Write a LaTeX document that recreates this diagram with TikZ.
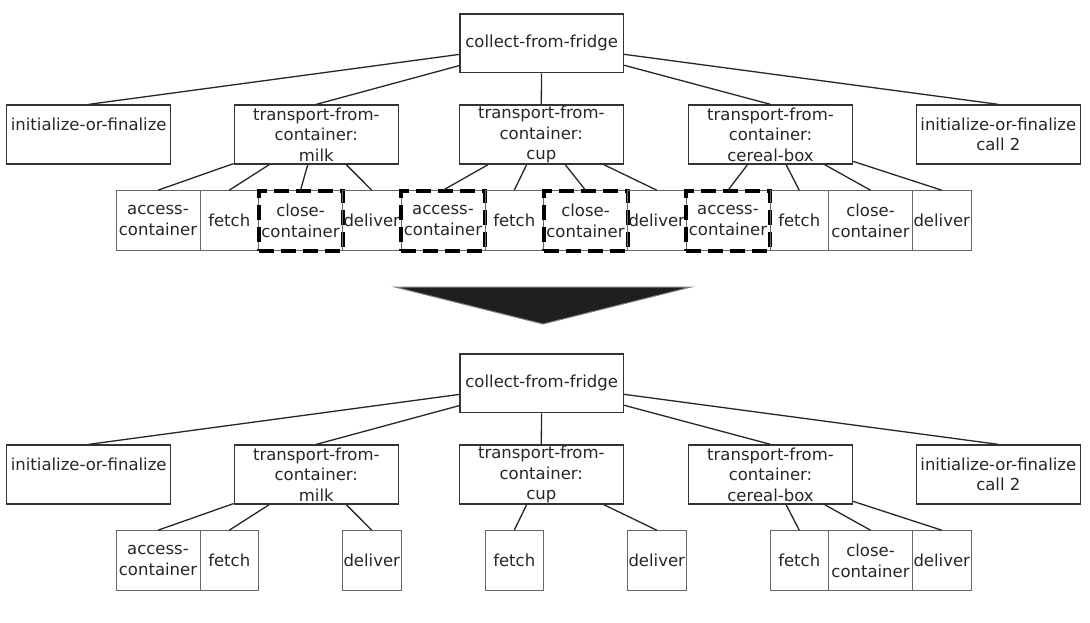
\documentclass[tikz,border=0pt]{standalone}
\usepackage{fontspec}
\setmainfont{DejaVu Sans}
\begin{document}
\begin{tikzpicture}[x=0.5pt,y=-0.5pt,
  box/.style={draw=black!80, line width=0.65pt, inner sep=0pt, align=center, text=black!85, font=\fontsize{8.25}{10.3}\selectfont},
  topbox/.style={box, minimum width=81.65pt, minimum height=29.35pt},
  midbox/.style={box, minimum width=82pt, minimum height=29.5pt},
  wideleaf/.style={box, draw=black!60, line width=0.5pt, minimum width=42pt, minimum height=30pt},
  narrowleaf/.style={box, draw=black!60, line width=0.5pt, minimum width=29.25pt, minimum height=30pt},
  dropped/.style={postaction={draw=black, line width=2pt, dash pattern=on 7.5pt off 3.5pt}},
  link/.style={draw=black!85, line width=0.65pt}]
\useasboundingbox (0,0) rectangle (1090,622);
\node[topbox] (t0) at (541.7,43.3){collect-from-fridge};
\node[midbox] (t1) at (88.7,134.5){initialize-or-finalize\\~};
\node[midbox] (t2) at (316.3,134.5){transport-from-\\container:\\milk};
\node[midbox] (t3) at (541.3,134.5){transport-from-\\container:\\cup};
\node[midbox] (t4) at (770.5,134.5){transport-from-\\container:\\cereal-box};
\node[midbox] (t5) at (998.3,134.5){initialize-or-finalize\\call 2};
\draw[link](t0) -- (t1.north);
\draw[link](t0) -- (t2.north);
\draw[link](t0) -- (t3.north);
\draw[link](t0) -- (t4.north);
\draw[link](t0) -- (t5.north);
\node[wideleaf] (t6) at (158,220.7){access-\\container};
\node[narrowleaf] (t7) at (229.25,220.7){fetch};
\node[wideleaf, dropped] (t8) at (300.5,220.7){close-\\container};
\node[narrowleaf] (t9) at (371.75,220.7){deliver};
\draw[link](t2) -- (t6.north);
\draw[link](t2) -- (t7.north);
\draw[link](t2) -- (t8.north);
\draw[link](t2) -- (t9.north);
\node[wideleaf, dropped] (t10) at (443,220.7){access-\\container};
\node[narrowleaf] (t11) at (514.25,220.7){fetch};
\node[wideleaf, dropped] (t12) at (585.5,220.7){close-\\container};
\node[narrowleaf] (t13) at (656.75,220.7){deliver};
\draw[link](t3) -- (t10.north);
\draw[link](t3) -- (t11.north);
\draw[link](t3) -- (t12.north);
\draw[link](t3) -- (t13.north);
\node[wideleaf, dropped] (t14) at (728,220.7){access-\\container};
\node[narrowleaf] (t15) at (799.25,220.7){fetch};
\node[wideleaf] (t16) at (870.5,220.7){close-\\container};
\node[narrowleaf] (t17) at (941.75,220.7){deliver};
\draw[link](t4) -- (t14.north);
\draw[link](t4) -- (t15.north);
\draw[link](t4) -- (t16.north);
\draw[link](t4) -- (t17.north);
\filldraw[fill=black!88, draw=black!50, line width=0.5pt] (395,287) -- (691,287) -- (543,324) -- cycle;
\node[topbox] (b0) at (541.7,383.3){collect-from-fridge};
\node[midbox] (b1) at (88.7,474.5){initialize-or-finalize\\~};
\node[midbox] (b2) at (316.3,474.5){transport-from-\\container:\\milk};
\node[midbox] (b3) at (541.3,474.5){transport-from-\\container:\\cup};
\node[midbox] (b4) at (770.5,474.5){transport-from-\\container:\\cereal-box};
\node[midbox] (b5) at (998.3,474.5){initialize-or-finalize\\call 2};
\draw[link](b0) -- (b1.north);
\draw[link](b0) -- (b2.north);
\draw[link](b0) -- (b3.north);
\draw[link](b0) -- (b4.north);
\draw[link](b0) -- (b5.north);
\node[wideleaf] (b6) at (158,560.7){access-\\container};
\node[narrowleaf] (b7) at (229.25,560.7){fetch};
\node[narrowleaf] (b9) at (371.75,560.7){deliver};
\draw[link](b2) -- (b6.north);
\draw[link](b2) -- (b7.north);
\draw[link](b2) -- (b9.north);
\node[narrowleaf] (b11) at (514.25,560.7){fetch};
\node[narrowleaf] (b13) at (656.75,560.7){deliver};
\draw[link](b3) -- (b11.north);
\draw[link](b3) -- (b13.north);
\node[narrowleaf] (b15) at (799.25,560.7){fetch};
\node[wideleaf] (b16) at (870.5,560.7){close-\\container};
\node[narrowleaf] (b17) at (941.75,560.7){deliver};
\draw[link](b4) -- (b15.north);
\draw[link](b4) -- (b16.north);
\draw[link](b4) -- (b17.north);
\end{tikzpicture}
\end{document}
